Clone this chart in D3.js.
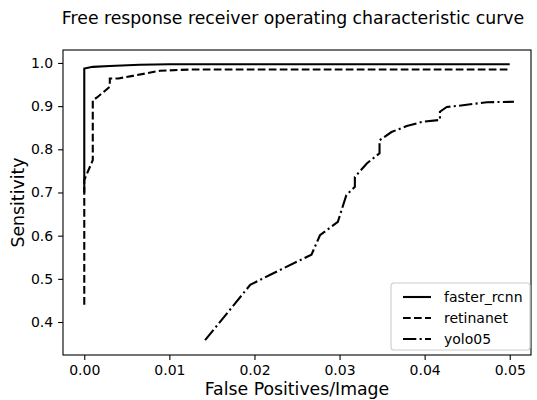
<!DOCTYPE html>
<html lang="en">
    <head>
        <meta charset="utf-8">
        <title>Free response receiver operating characteristic curve</title>
        <script src="https://d3js.org/d3.v7.min.js"></script>
        <style type="text/css">
            body { margin: 0; background: #fff; }
            svg { display: block; font-family: "DejaVu Sans", sans-serif; }
        </style>
    </head>
    <body>
        <svg width="537" height="400"></svg>
        <script type="text/javascript">

            // series: [false positives per image, sensitivity]
            const fasterRcnn = [
                [0, 0.70], [0, 0.987], [0.001, 0.991], [0.003, 0.993], [0.0065, 0.996],
                [0.01, 0.997], [0.05, 0.997]
            ];
            const retinanet = [
                [0, 0.44], [0, 0.729], [0.001, 0.775], [0.001, 0.914], [0.0015, 0.92],
                [0.003, 0.945], [0.003, 0.964], [0.004, 0.964], [0.0057, 0.970],
                [0.0089, 0.982], [0.0128, 0.985], [0.05, 0.985]
            ];
            const yolo05 = [
                [0.0142, 0.358], [0.0195, 0.486], [0.0218, 0.509], [0.0267, 0.556],
                [0.0277, 0.601], [0.0298, 0.632], [0.0308, 0.694], [0.0318, 0.713],
                [0.0318, 0.736], [0.0332, 0.767], [0.0347, 0.791], [0.0347, 0.821],
                [0.0361, 0.840], [0.0379, 0.854], [0.0398, 0.864], [0.0418, 0.868],
                [0.0418, 0.887], [0.0426, 0.898], [0.0445, 0.902], [0.0473, 0.909],
                [0.0505, 0.910]
            ];
            const seriesNames = ["faster_rcnn", "retinanet", "yolo05"];
            const xTicks = [0, 0.01, 0.02, 0.03, 0.04, 0.05];
            const yTicks = [0.4, 0.5, 0.6, 0.7, 0.8, 0.9, 1.0];

            const svg = d3.select("svg");
            const plotL = 63, plotR = 531, plotT = 50, plotB = 355;

            const x = d3.scaleLinear().domain([-0.0025, 0.0525]).range([plotL, plotR]);
            const y = d3.scaleLinear().domain([0.3236, 1.030]).range([plotB, plotT]);

            const dashes = ["none", "7.7,3.3", "13.3,3.3,2.1,3.3"];
            const allSeries = [fasterRcnn, retinanet, yolo05];

            // title
            svg.append("text")
                .attr("x", 293)
                .attr("y", 24)
                .attr("text-anchor", "middle")
                .style("font-size", "17.3px")
                .text("Free response receiver operating characteristic curve");

            const line = d3.line().x(d => x(d[0])).y(d => y(d[1]));

            svg.selectAll("path.series")
                .data(allSeries)
                .join("path")
                .attr("class", "series")
                .attr("d", line)
                .style("fill", "none")
                .style("stroke", "#000")
                .style("stroke-width", 2.1)
                .style("stroke-dasharray", (d, i) => dashes[i]);

            // axes
            const xAxis = svg.append("g")
                .attr("transform", `translate(0,${plotB})`)
                .call(d3.axisBottom(x).tickValues(xTicks).tickFormat(d3.format(".2f")).tickSize(4.9).tickPadding(4.9));
            const yAxis = svg.append("g")
                .attr("transform", `translate(${plotL},0)`)
                .call(d3.axisLeft(y).tickValues(yTicks).tickFormat(d3.format(".1f")).tickSize(4.9).tickPadding(4.9));

            [xAxis, yAxis].forEach(g => {
                g.select(".domain").remove();
                g.selectAll("line").style("stroke", "#000").style("stroke-width", 1.1);
                g.selectAll("text").style("font-size", "14px").style("font-family", "DejaVu Sans").style("fill", "#000");
            });

            // frame
            svg.append("rect")
                .attr("x", plotL).attr("y", plotT)
                .attr("width", plotR - plotL).attr("height", plotB - plotT)
                .style("fill", "none").style("stroke", "#000").style("stroke-width", 1.1);

            // axis labels
            svg.append("text")
                .attr("x", (plotL + plotR) / 2)
                .attr("y", 395)
                .attr("text-anchor", "middle")
                .style("font-size", "17.3px")
                .text("False Positives/Image");

            svg.append("text")
                .attr("transform", `translate(24,${(plotT + plotB) / 2}) rotate(-90)`)
                .attr("text-anchor", "middle")
                .style("font-size", "17.3px")
                .text("Sensitivity");

            // legend
            const legend = svg.append("g").attr("transform", "translate(391,283)");
            legend.append("rect")
                .attr("width", 139).attr("height", 67)
                .attr("rx", 3)
                .style("fill", "#fff").style("fill-opacity", 0.8)
                .style("stroke", "#ccc").style("stroke-width", 1.1);

            const items = legend.selectAll("g.item")
                .data(seriesNames)
                .join("g")
                .attr("class", "item")
                .attr("transform", (d, i) => `translate(0,${14 + i * 21})`);
            items.append("line")
                .attr("x1", 12).attr("x2", 40)
                .style("stroke", "#000").style("stroke-width", 2.1)
                .style("stroke-dasharray", (d, i) => dashes[i]);
            items.append("text")
                .attr("x", 53).attr("y", 5)
                .style("font-size", "14px")
                .text(d => d);

        </script>
    </body>
</html>
